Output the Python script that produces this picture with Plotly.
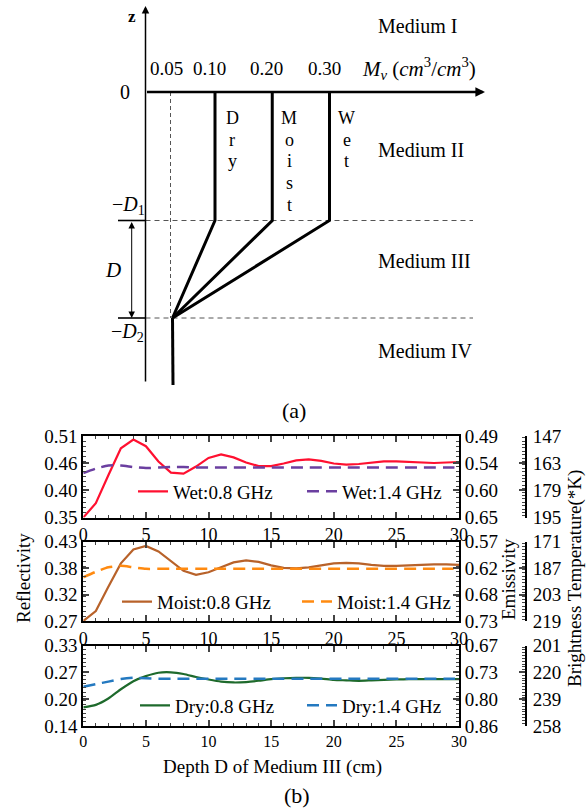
import numpy as np
import plotly.graph_objects as go

# ---------------- data: panel (b) ----------------
depth_cm = list(range(0, 31))
wet_08 = [0.350, 0.378, 0.433, 0.486, 0.503, 0.490, 0.460, 0.438, 0.436, 0.450,
          0.467, 0.474, 0.468, 0.458, 0.451, 0.451, 0.456, 0.462, 0.464, 0.461,
          0.456, 0.454, 0.455, 0.458, 0.460, 0.460, 0.459, 0.457, 0.457, 0.458, 0.459]
wet_14 = [0.437, 0.446, 0.452, 0.452, 0.449, 0.447, 0.448, 0.449, 0.449, 0.448,
          0.448, 0.448, 0.448, 0.448, 0.448, 0.448, 0.448, 0.448, 0.448, 0.448,
          0.448, 0.448, 0.448, 0.448, 0.448, 0.448, 0.448, 0.448, 0.448, 0.448, 0.448]
moist_08 = [0.270, 0.290, 0.339, 0.386, 0.414, 0.421, 0.410, 0.390, 0.371, 0.363,
            0.368, 0.378, 0.388, 0.392, 0.389, 0.382, 0.377, 0.376, 0.378, 0.382,
            0.386, 0.387, 0.386, 0.383, 0.381, 0.381, 0.382, 0.384, 0.384, 0.384, 0.383]
moist_14 = [0.358, 0.369, 0.378, 0.381, 0.378, 0.375, 0.375, 0.375, 0.375, 0.375,
            0.375, 0.375, 0.375, 0.375, 0.375, 0.375, 0.375, 0.375, 0.375, 0.375,
            0.375, 0.375, 0.375, 0.375, 0.375, 0.375, 0.375, 0.375, 0.375, 0.375, 0.375]
dry_08 = [0.184, 0.190, 0.205, 0.227, 0.246, 0.258, 0.266, 0.267, 0.263, 0.256,
          0.250, 0.245, 0.243, 0.244, 0.247, 0.251, 0.253, 0.254, 0.254, 0.252,
          0.249, 0.248, 0.247, 0.248, 0.249, 0.250, 0.251, 0.251, 0.251, 0.251, 0.251]
dry_14 = [0.233, 0.239, 0.245, 0.251, 0.254, 0.253, 0.252, 0.252, 0.252, 0.252,
          0.252, 0.252, 0.252, 0.252, 0.252, 0.252, 0.252, 0.252, 0.252, 0.252,
          0.252, 0.252, 0.252, 0.252, 0.252, 0.252, 0.252, 0.252, 0.252, 0.252, 0.252]

series_names = [["Wet:0.8 GHz", "Wet:1.4 GHz"],
                ["Moist:0.8 GHz", "Moist:1.4 GHz"],
                ["Dry:0.8 GHz", "Dry:1.4 GHz"]]
series_values = [[wet_08, wet_14], [moist_08, moist_14], [dry_08, dry_14]]

refl_ranges = [(0.35, 0.51), (0.27, 0.43), (0.14, 0.33)]
refl_ticktext = [["0.35", "0.40", "0.46", "0.51"],
                 ["0.27", "0.32", "0.38", "0.43"],
                 ["0.14", "0.20", "0.27", "0.33"]]
emis_ticktext = [["0.65", "0.60", "0.54", "0.49"],
                 ["0.73", "0.68", "0.62", "0.57"],
                 ["0.86", "0.80", "0.73", "0.67"]]
tb_ticktext = [["195", "179", "163", "147"],
               ["219", "203", "187", "171"],
               ["258", "239", "220", "201"]]
T_PHYS = 300.0
x_ticks = [0, 5, 10, 15, 20, 25, 30]

# ---------------- data: schematic (a) ----------------
mv_ticks = [0.05, 0.10, 0.20, 0.30]
mv_tick_labels = ["0.05", "0.10", "0.20", "0.30"]
profile_names = ["Dry", "Moist", "Wet"]
profile_surface_mv = [0.10, 0.20, 0.30]
subsoil_mv = 0.05
media_names = ["Medium I", "Medium II", "Medium III", "Medium IV"]

# ---------------- layout constants ----------------
W, H = 587, 812
FONT = "Liberation Serif"
BLACK = "black"
colors = [["#ff1030", "#6b3fa0"], ["#b8622a", "#ff8a10"], ["#1e6a2c", "#2479c0"]]
dashes = ["solid", "12px,7px"]
shapes_line = [["linear", "spline"], ["linear", "spline"], ["spline", "spline"]]

X0, X1 = 83.3, 459.0
panel_px = [(436.0, 517.5), (541.5, 621.0), (645.7, 726.0)]
TB_AXIS_X = 526.0
legend_text_px = [(173, 342), (157, 337), (175, 342)]
legend_row_px = [491.5, 601.7, 705.5]

# schematic geometry (page pixels; diagram not to scale)
SCH_MV = [0.0, 0.05, 0.10, 0.30]
SCH_PX = [145.5, 171.5, 215.0, 329.5]
def sx(mv):
    return float(np.interp(mv, SCH_MV, SCH_PX))
Z_TOP, Z_SURF, Z_D1, Z_D2, Z_BOT = 6.0, 92.0, 220.5, 318.0, 385.0

fig = go.Figure()

def yd(top, bot):
    return [1 - bot / H, 1 - top / H]

layout = dict(width=W, height=H, margin=dict(l=0, r=0, t=0, b=0, autoexpand=False),
              template="none",
              paper_bgcolor="white", plot_bgcolor="rgba(0,0,0,0)",
              font=dict(family=FONT, color=BLACK), showlegend=True)

for i in range(3):
    top, bot = panel_px[i]
    lo, hi = refl_ranges[i]
    xid = "x" if i == 0 else f"x{i+1}"
    yid = "y" if i == 0 else f"y{i+1}"
    eid = f"y{i+4}"
    tid = f"y{i+7}"
    xkey = "xaxis" if i == 0 else f"xaxis{i+1}"
    ykey = "yaxis" if i == 0 else f"yaxis{i+1}"
    rt = list(np.linspace(lo, hi, 4))
    layout[xkey] = dict(domain=[X0 / W, X1 / W], range=[0, 30], anchor=yid, automargin=False,
                        tickmode="array", tickvals=x_ticks, ticks="inside", ticklen=6, tickwidth=1.5,
                        minor=dict(dtick=1, tick0=0, ticks="inside", ticklen=3, tickwidth=1),
                        showline=True, linewidth=2, linecolor=BLACK, mirror="ticks",
                        tickfont=dict(family=FONT, size=18 if i < 2 else 16, color=BLACK),
                        showgrid=False, zeroline=False, fixedrange=True, ticklabelstandoff=0)
    layout[ykey] = dict(domain=yd(top, bot), range=[lo, hi], anchor=xid, automargin=False,
                        tickmode="array", tickvals=rt, ticktext=refl_ticktext[i],
                        ticks="inside", ticklen=6, tickwidth=1.5,
                        minor=dict(dtick=0.01, tick0=0, ticks="inside", ticklen=3, tickwidth=1),
                        showline=True, linewidth=2, linecolor=BLACK,
                        tickfont=dict(family=FONT, size=19, color=BLACK),
                        showgrid=False, zeroline=False, fixedrange=True, ticklabelstandoff=0)
    layout[f"yaxis{i+4}"] = dict(overlaying=yid, side="right", anchor=xid, automargin=False,
                                 range=[1 - lo, 1 - hi], tickmode="array",
                                 tickvals=[1 - v for v in rt], ticktext=emis_ticktext[i],
                                 ticks="inside", ticklen=6, tickwidth=1.5,
                                 minor=dict(dtick=0.01, tick0=0, ticks="inside", ticklen=3, tickwidth=1),
                                 showline=True, linewidth=2, linecolor=BLACK,
                                 tickfont=dict(family=FONT, size=19, color=BLACK),
                                 showgrid=False, zeroline=False, fixedrange=True, ticklabelstandoff=0)
    layout[f"yaxis{i+7}"] = dict(overlaying=yid, side="right", anchor="free", position=TB_AXIS_X / W,
                                 automargin=False,
                                 range=[T_PHYS * (1 - lo), T_PHYS * (1 - hi)], tickmode="array",
                                 tickvals=[T_PHYS * (1 - v) for v in rt], ticktext=tb_ticktext[i],
                                 ticks="inside", ticklen=6, tickwidth=1.5,
                                 minor=dict(dtick=2, tick0=0, ticks="inside", ticklen=3, tickwidth=1),
                                 showline=True, linewidth=2, linecolor=BLACK,
                                 tickfont=dict(family=FONT, size=19, color=BLACK),
                                 showgrid=False, zeroline=False, fixedrange=True, ticklabelstandoff=2)
    # placeholder traces so the overlay axes exist
    for ax in (eid, tid):
        fig.add_trace(go.Scatter(x=[None], y=[None], xaxis=xid, yaxis=ax,
                                 showlegend=False, hoverinfo="skip"))
    for k in range(2):
        lg = f"legend{2*i+k+1}" if (2*i+k) > 0 else "legend"
        fig.add_trace(go.Scatter(
            x=depth_cm, y=series_values[i][k], xaxis=xid, yaxis=yid, mode="lines",
            name=series_names[i][k], legend=lg,
            line=dict(color=colors[i][k], width=2.2 if k == 0 else 2.5, dash=dashes[k],
                      shape=shapes_line[i][k], smoothing=0.6)))
        layout[lg] = dict(x=(legend_text_px[i][k] - 40) / W, y=1 - legend_row_px[i] / H,
                          xanchor="left", yanchor="middle", orientation="h",
                          bgcolor="rgba(0,0,0,0)", borderwidth=0,
                          font=dict(family=FONT, size=19, color=BLACK))

# full-page pixel axes for the schematic and free text
layout["xaxis4"] = dict(domain=[0, 1], range=[0, W], visible=False, fixedrange=True,
                        anchor="y10", automargin=False)
layout["yaxis10"] = dict(domain=[0, 1], range=[H, 0], visible=False, fixedrange=True,
                         anchor="x4", automargin=False)

def sch_line(xs, ys, width=3, dash="solid", color=BLACK):
    fig.add_trace(go.Scatter(x=xs, y=ys, xaxis="x4", yaxis="y10", mode="lines",
                             line=dict(color=color, width=width, dash=dash),
                             showlegend=False, hoverinfo="skip"))

# dashed boundaries
for z in (Z_D1, Z_D2):
    sch_line([sx(0.0), 473], [z, z], width=1, dash="5px,4px", color="#555555")
    sch_line([118, sx(0.0)], [z, z], width=1.6)
sch_line([sx(subsoil_mv) - 1, sx(subsoil_mv) - 1], [Z_SURF, Z_D2], width=1, dash="4px,3px", color="#555555")
# moisture profiles
for mv in profile_surface_mv:
    sch_line([sx(mv), sx(mv), sx(subsoil_mv) + 1], [Z_SURF, Z_D1, Z_D2], width=3)
sch_line([sx(subsoil_mv) + 1, sx(subsoil_mv) + 1.5], [Z_D2, Z_BOT], width=3)

ann = []
def txt(x, y, s, size=19, xanchor="center", angle=0, **kw):
    ann.append(dict(x=x, y=y, xref="x4", yref="y10", text=s, showarrow=False,
                    xanchor=xanchor, yanchor="middle", textangle=angle,
                    font=dict(family=FONT, size=size, color=BLACK), **kw))

def arrow(x, y, ax, ay, width=1.5, side="end", head=2, size=1.0):
    ann.append(dict(x=x, y=y, ax=ax, ay=ay, xref="x4", yref="y10", axref="x4", ayref="y10",
                    text="", showarrow=True, arrowhead=head, arrowside=side, arrowsize=size,
                    arrowwidth=width, arrowcolor=BLACK, startarrowhead=head, startarrowsize=size))

# axes of the schematic
arrow(sx(0.0), Z_TOP, sx(0.0), 383, width=1.5, size=1.0)
arrow(485, Z_SURF, sx(0.0), Z_SURF, width=2.4, size=0.8)
arrow(131.7, Z_D2, 131.7, Z_D1, width=1, side="end+start", size=1.3)

txt(132, 16, "<b>z</b>", size=17)
txt(125, Z_SURF, "0", size=20)
for mv, lab in zip(mv_ticks, mv_tick_labels):
    txt(sx(mv) - 5.5, 68, lab, size=19)
txt(360, 68, "<i>M</i><sub><i>v</i></sub> (<i>cm</i><sup>3</sup>/<i>cm</i><sup>3</sup>)", size=21, xanchor="left")
txt(128, 205, "−<i>D</i><sub>1</sub>", size=20)
txt(127, 332, "−<i>D</i><sub>2</sub>", size=20)
txt(113, 270, "<i>D</i>", size=21)
for name, mv in zip(profile_names, profile_surface_mv):
    for j, ch in enumerate(name):
        txt(sx(mv) + 17, 118 + j * 21.7, ch, size=18)
for name, y in zip(media_names, [26, 150, 261, 351]):
    txt(376, y, name, size=20, xanchor="left")
txt(294, 410, "(a)", size=22)

# titles for (b)
txt(23, 578, "Reflectivity", size=19, angle=-90)
txt(508, 579, "Emissivity", size=19, angle=-90)
txt(575, 579, "Brightness Temperature(*K)", size=19, angle=-90)
txt(272, 767, "Depth D of Medium III (cm)", size=19)
txt(297, 795, "(b)", size=22)

layout["annotations"] = ann
fig.update_layout(**layout)
fig.write_html("out.html", config={"displayModeBar": False},
               post_script="document.body.style.margin='0px';document.body.style.overflow='hidden';")
